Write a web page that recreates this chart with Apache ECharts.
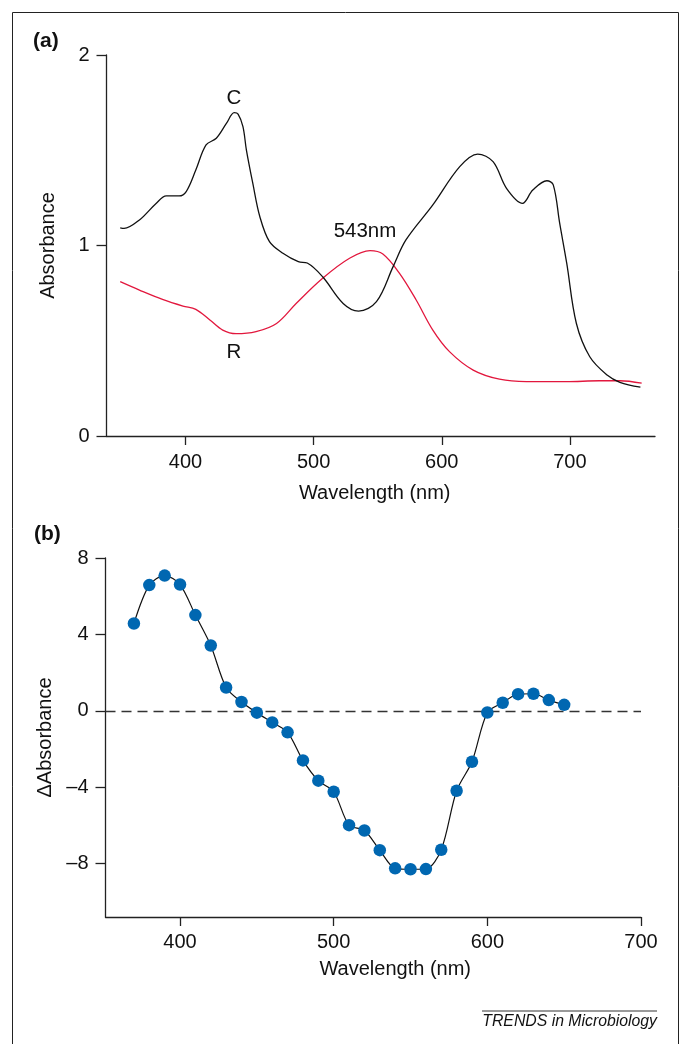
<!DOCTYPE html>
<html>
<head>
<meta charset="utf-8">
<script src="https://cdn.jsdelivr.net/npm/echarts@6/dist/echarts.min.js"></script>
<style>html,body{margin:0;padding:0;background:#fff}#c{width:683px;height:1044px}</style>
</head>
<body>
<div id="c"></div>
<script>
// ---- Panel (a): absorbance spectra ----
const wavelengthC = [349, 352, 364, 377, 385, 395, 400.5, 408, 416, 424, 432, 438, 441, 444.8, 447.5, 452.5, 458, 465.5, 476, 488, 495, 507, 523, 535, 549, 562, 572, 593, 614, 628, 640, 650.5, 663, 671, 682, 687, 692, 697.5, 705, 715.5, 729, 739, 755];
const absC =        [1.093, 1.09, 1.134, 1.221, 1.26, 1.26, 1.283, 1.396, 1.528, 1.563, 1.642, 1.697, 1.69, 1.624, 1.501, 1.326, 1.151, 1.02, 0.959, 0.915, 0.908, 0.836, 0.696, 0.656, 0.705, 0.889, 1.029, 1.213, 1.414, 1.48, 1.44, 1.3, 1.221, 1.291, 1.34, 1.318, 1.117, 0.907, 0.592, 0.416, 0.32, 0.282, 0.256];
const wavelengthR = [349, 364, 382, 398, 408, 419, 429, 439.5, 455, 471, 486.5, 507, 528, 544, 554, 567, 580, 593, 606, 624.5, 645, 666, 697, 723, 739, 756];
const absR =        [0.81, 0.766, 0.717, 0.682, 0.665, 0.609, 0.556, 0.537, 0.548, 0.591, 0.697, 0.828, 0.933, 0.973, 0.955, 0.854, 0.714, 0.556, 0.443, 0.346, 0.298, 0.285, 0.285, 0.29, 0.29, 0.277];
const ticksA_x = [400, 500, 600, 700];
const ticksA_y = [0, 1, 2];

// ---- Panel (b): difference spectrum ----
const wavelengthB = [370, 380, 390, 400, 410, 420, 430, 440, 450, 460, 470, 480, 490, 500, 510, 520, 530, 540, 550, 560, 570, 580, 590, 600, 610, 620, 630, 640, 650];
const deltaAbs =    [4.57, 6.58, 7.08, 6.61, 5.01, 3.42, 1.22, 0.46, -0.1, -0.61, -1.13, -2.6, -3.66, -4.24, -5.99, -6.27, -7.3, -8.25, -8.3, -8.29, -7.28, -4.19, -2.67, -0.09, 0.42, 0.87, 0.89, 0.56, 0.31];
const ticksB_x = [400, 500, 600, 700];
const ticksB_y = [-8, -4, 0, 4, 8];

const FONT = '"Liberation Sans", Arial, sans-serif';
const FS = 20;
const AX = '#222';
const zip = (xs, ys) => xs.map((x, i) => [x, ys[i]]);
const fmtMinus = v => (v < 0 ? '\u2013' + Math.abs(v) : String(v));

const chart = echarts.init(document.getElementById('c'), null, {renderer: 'canvas'});

const axisLineStyle = {show: true, onZero: false, lineStyle: {color: AX, width: 1.3}};
const tickStyle = (vals, len) => ({show: true, length: len, inside: false, customValues: vals, lineStyle: {color: AX, width: 1.3}});
const labelStyle = (vals, margin, fmt) => ({show: true, customValues: vals, margin: margin, color: '#111', fontSize: FS, fontFamily: FONT, formatter: fmt || (v => String(v))});
const nameStyle = (pad) => ({color: '#111', fontSize: FS, fontFamily: FONT, padding: pad || 0});

chart.setOption({
  animation: false,
  backgroundColor: '#fff',
  grid: [
    {left: 106.5, right: 28, top: 55, bottom: 608},
    {left: 105.5, right: 42, top: 558, bottom: 127}
  ],
  xAxis: [
    {gridIndex: 0, type: 'value', min: 338.3, max: 766.4,
     axisLine: axisLineStyle, axisTick: tickStyle(ticksA_x, 9), axisLabel: labelStyle(ticksA_x, 16),
     splitLine: {show: false},
     name: 'Wavelength (nm)', nameLocation: 'middle', nameGap: 47,
     nameTextStyle: nameStyle([0, 12, 0, 0])},
    {gridIndex: 1, type: 'value', min: 351.5, max: 700,
     axisLine: axisLineStyle, axisTick: tickStyle(ticksB_x, 9), axisLabel: labelStyle(ticksB_x, 15),
     splitLine: {show: false},
     name: 'Wavelength (nm)', nameLocation: 'middle', nameGap: 42,
     nameTextStyle: nameStyle([0, 0, 0, 44])}
  ],
  yAxis: [
    {gridIndex: 0, type: 'value', min: 0, max: 2,
     axisLine: axisLineStyle, axisTick: tickStyle(ticksA_y, 10), axisLabel: labelStyle(ticksA_y, 17),
     splitLine: {show: false},
     name: 'Absorbance', nameLocation: 'middle', nameGap: 48,
     nameTextStyle: nameStyle()},
    {gridIndex: 1, type: 'value', min: -10.8, max: 8,
     axisLine: axisLineStyle, axisTick: tickStyle(ticksB_y, 10), axisLabel: labelStyle(ticksB_y, 17, fmtMinus),
     splitLine: {show: false},
     name: '\u0394Absorbance', nameLocation: 'middle', nameGap: 48,
     nameTextStyle: nameStyle()}
  ],
  series: [
    {name: 'C', type: 'line', xAxisIndex: 0, yAxisIndex: 0, data: zip(wavelengthC, absC),
     smooth: 0.35, showSymbol: false, lineStyle: {color: '#111', width: 1.3}, z: 3},
    {name: 'R', type: 'line', xAxisIndex: 0, yAxisIndex: 0, data: zip(wavelengthR, absR),
     smooth: 0.35, showSymbol: false, lineStyle: {color: '#e2173d', width: 1.3}, z: 2},
    {name: 'ΔA', type: 'line', xAxisIndex: 1, yAxisIndex: 1, data: zip(wavelengthB, deltaAbs),
     smooth: 0.3, symbol: 'circle', symbolSize: 12.5, showSymbol: true,
     itemStyle: {color: '#0067b1', borderWidth: 0},
     lineStyle: {color: '#111', width: 1.2}, z: 3,
     markLine: {silent: true, symbol: 'none', label: {show: false},
       lineStyle: {color: '#333', width: 1.4, type: [10, 6]},
       data: [{yAxis: 0}], z: 1}}
  ],
  graphic: [
    {type: 'rect', shape: {x: 12.5, y: 12.5, width: 666, height: 1040}, style: {fill: 'none', stroke: '#222', lineWidth: 1}, silent: true},
    {type: 'text', left: 33, top: 31, style: {text: '(a)', font: 'bold 21px ' + FONT, fill: '#111'}},
    {type: 'text', left: 34, top: 524, style: {text: '(b)', font: 'bold 21px ' + FONT, fill: '#111'}},
    {type: 'text', x: 234, y: 98, style: {text: 'C', font: '20.5px ' + FONT, fill: '#111', align: 'center', verticalAlign: 'middle'}},
    {type: 'text', x: 365, y: 231, style: {text: '543nm', font: '20.5px ' + FONT, fill: '#111', align: 'center', verticalAlign: 'middle'}},
    {type: 'text', x: 234, y: 352, style: {text: 'R', font: '20.5px ' + FONT, fill: '#111', align: 'center', verticalAlign: 'middle'}},
    {type: 'line', shape: {x1: 482, y1: 1011, x2: 657, y2: 1011}, style: {stroke: '#777', lineWidth: 1.5}},
    {type: 'text', x: 657, y: 1022, style: {text: 'TRENDS in Microbiology', font: 'italic 15.8px ' + FONT, fill: '#111', align: 'right', verticalAlign: 'middle'}}
  ]
});
</script>
</body>
</html>
